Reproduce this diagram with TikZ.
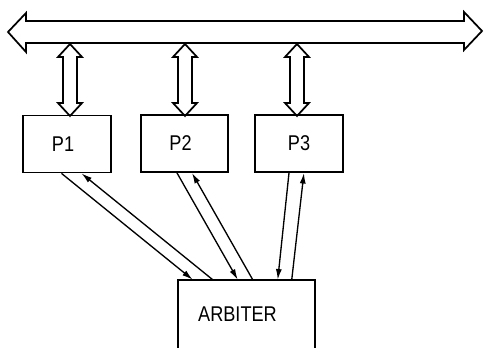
\documentclass[tikz,border=0pt]{standalone}
\usepackage{fontspec}
\newfontfamily\handfont[FakeStretch=0.85]{Liberation Sans}
\usetikzlibrary{arrows.meta}
\begin{document}
\begin{tikzpicture}[x=0.75pt,y=-0.75pt,
  box/.style={draw,line width=1.3pt,minimum width=65.5pt,minimum height=42.75pt,inner sep=0pt,font=\handfont\fontsize{16}{18}\selectfont},
  arbbox/.style={minimum width=102.75pt,minimum height=51pt,inner sep=0pt,font=\handfont\fontsize{16}{18}\selectfont},
  busarrow/.style={draw,line width=1.3pt,line join=miter},
  link/.style={line width=1pt,-{Latex[length=8pt,width=4.5pt]}}]
\useasboundingbox (0,0) rectangle (484,348);
% bus
\draw[busarrow] (8,32) -- (26,13) -- (26,21) -- (464,21) -- (464,12) -- (482,31)
  -- (464,50) -- (464,43) -- (26,43) -- (26,52) -- cycle;
% boxes
\node[box] (p1) at (67,144) {\hspace*{-6pt}P1};
\node[box] (p2) at (184.5,143.5) {\hspace*{-6pt}P2};
\node[box] (p3) at (299,143.5) {P3};
\node[arbbox] (arb) at (246.5,314) {\hspace*{-13.5pt}ARBITER};
\draw[line width=1.3pt] (arb.south west) -- (arb.north west) -- (arb.north east) -- (arb.south east);
% bus taps
\foreach \cx in {70,185,297}{
  \draw[busarrow] (\cx,44) -- (\cx+12,57) -- (\cx+7,57) -- (\cx+7,103) -- (\cx+12,103)
    -- (\cx,116) -- (\cx-12,103) -- (\cx-7,103) -- (\cx-7,57) -- (\cx-12,57) -- cycle;
}
% request / grant lines
\draw[link] ([xshift=29.25pt]p1.south west) -- ([xshift=11.25pt]arb.north west);
\draw[link] ([xshift=26.25pt]arb.north west) -- ([xshift=44.25pt]p1.south west);
\draw[link] ([xshift=27.75pt]p2.south west) -- ([xshift=45pt]arb.north west);
\draw[link] ([xshift=56.25pt]arb.north west) -- ([xshift=39pt]p2.south west);
\draw[link] ([xshift=25.9pt]p3.south west) -- ([xshift=75pt]arb.north west);
\draw[link] ([xshift=85.5pt]arb.north west) -- ([xshift=37.1pt]p3.south west);
\end{tikzpicture}
\end{document}
